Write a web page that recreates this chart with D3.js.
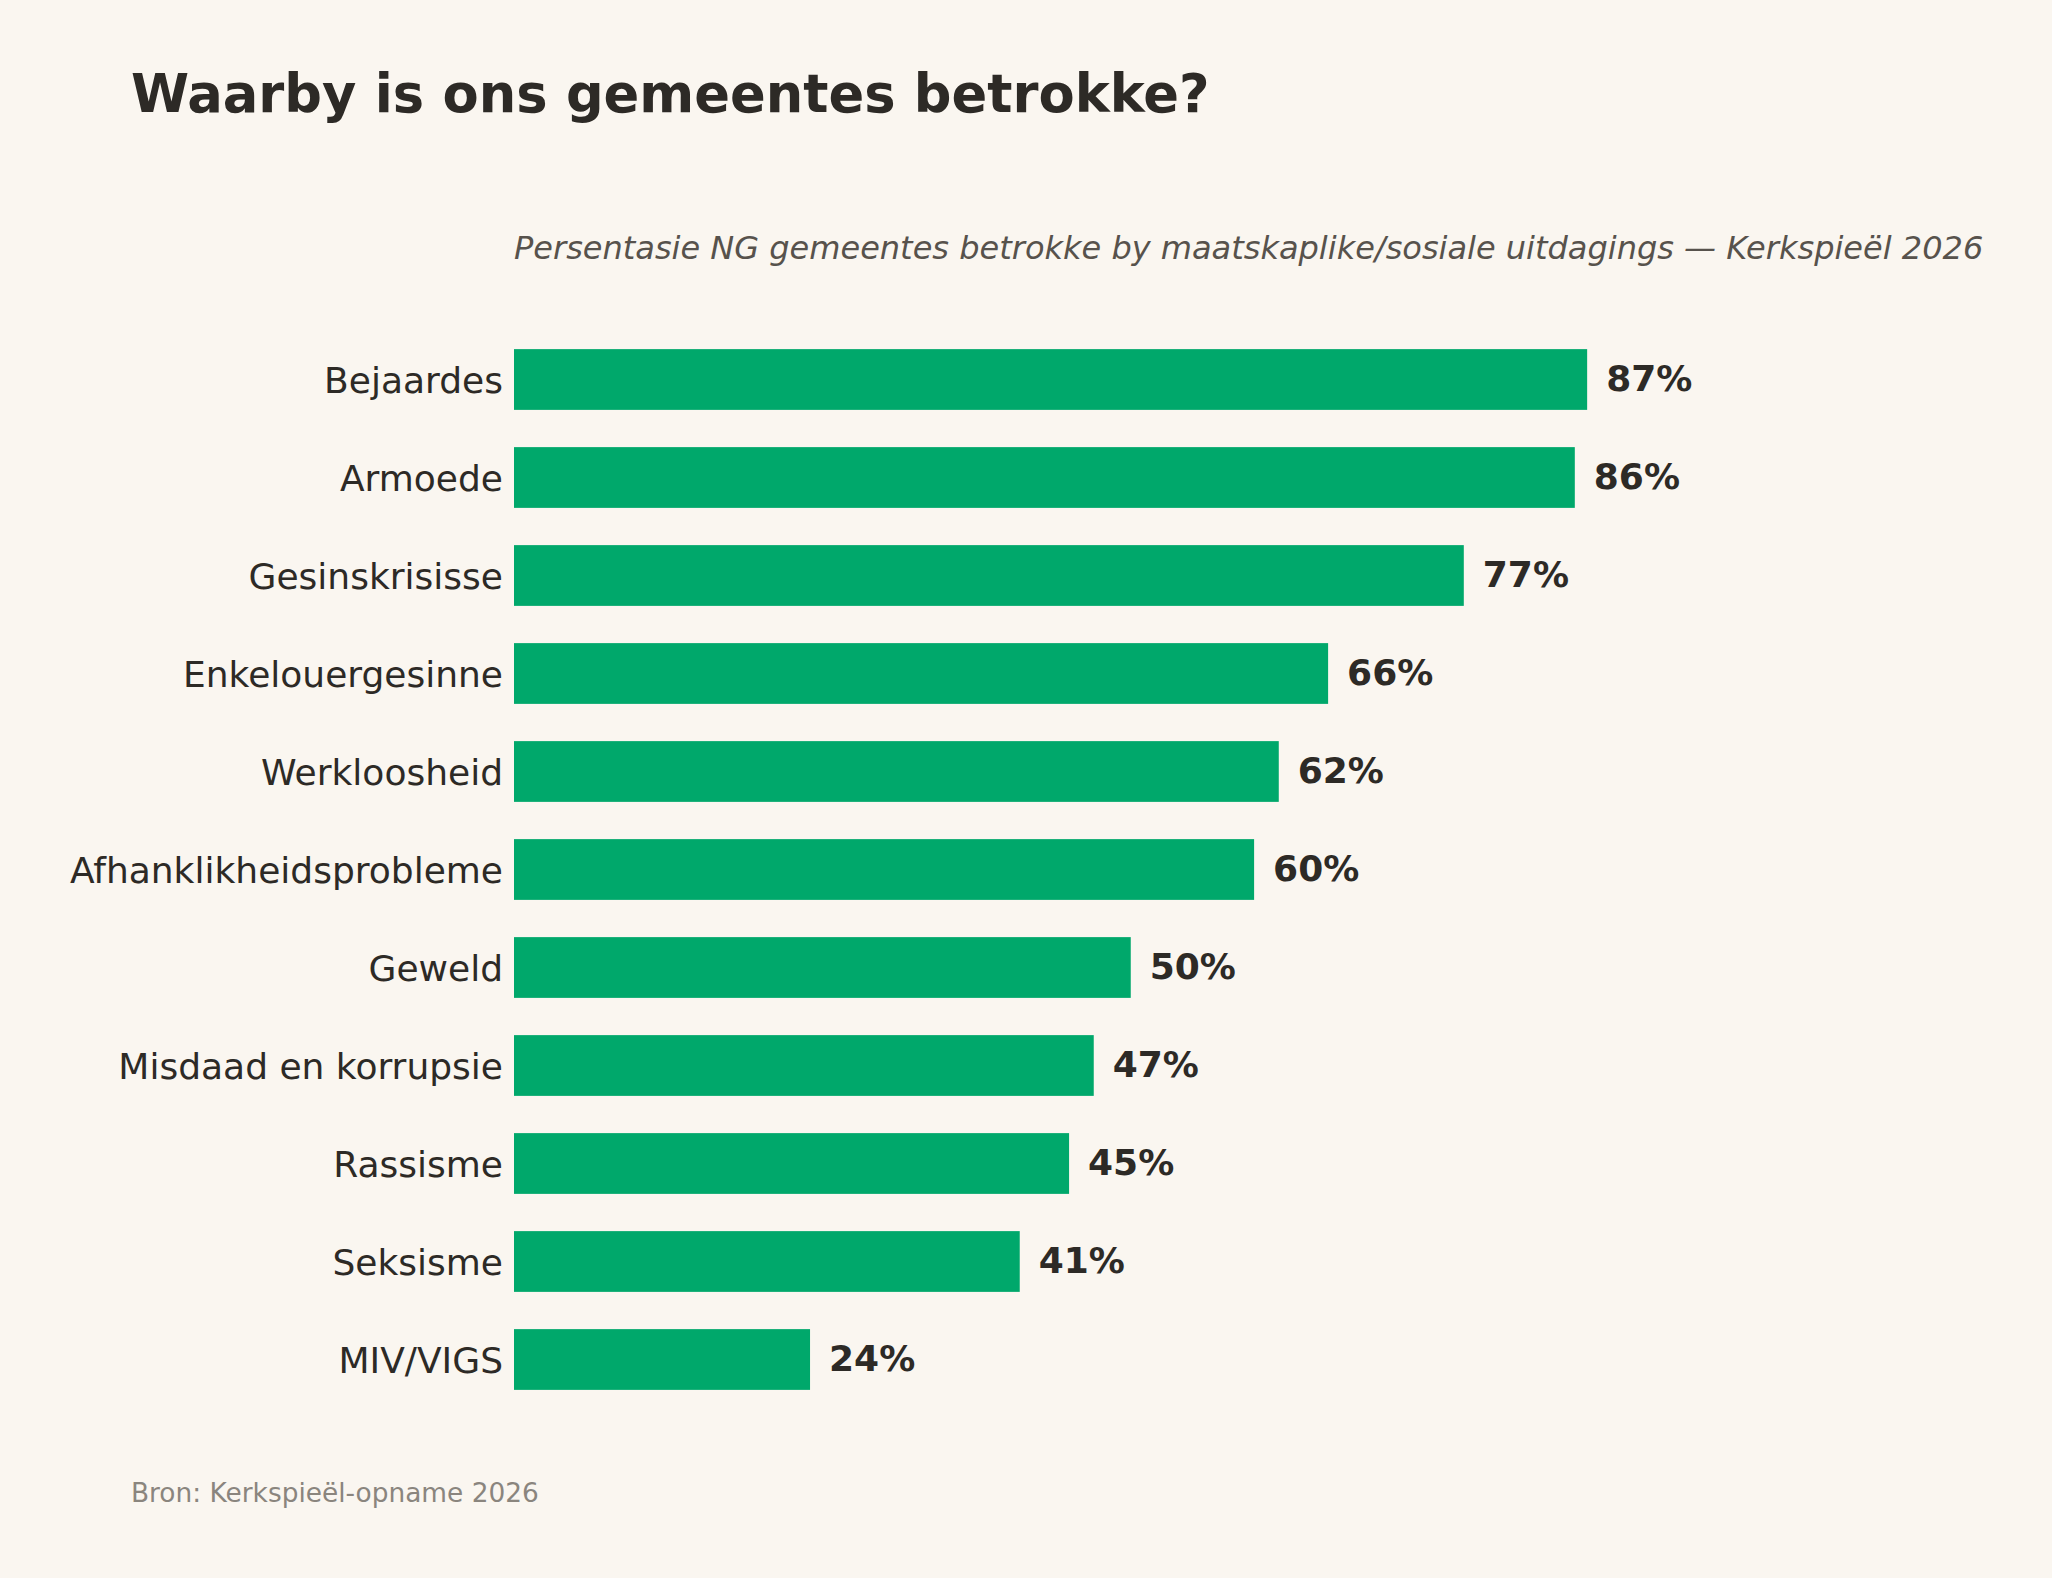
<!DOCTYPE html>
<html>
<head>
<meta charset="utf-8">
<script src="https://d3js.org/d3.v7.min.js"></script>
<style>
  html, body { margin: 0; padding: 0; background: #faf6f0; }
  svg { display: block; font-family: "DejaVu Sans", sans-serif; }
</style>
</head>
<body>
<div id="chart"></div>
<script>
// data
const categories = ["Bejaardes", "Armoede", "Gesinskrisisse", "Enkelouergesinne", "Werkloosheid",
  "Afhanklikheidsprobleme", "Geweld", "Misdaad en korrupsie", "Rassisme", "Seksisme", "MIV/VIGS"];
const values = [87, 86, 77, 66, 62, 60, 50, 47, 45, 41, 24];

const titleText = "Waarby is ons gemeentes betrokke?";
const subtitleText = "Persentasie NG gemeentes betrokke by maatskaplike/sosiale uitdagings \u2014 Kerkspie\u00ebl 2026";
const sourceText = "Bron: Kerkspie\u00ebl-opname 2026";

const width = 2052, height = 1578;
const ink = "#2d2a26", barColor = "#00a86b";

const svg = d3.select("#chart").append("svg")
  .attr("width", width)
  .attr("height", height);

svg.append("rect").attr("width", width).attr("height", height).attr("fill", "#faf6f0");

const x = d3.scaleLinear().domain([0, 100]).range([514, 1747.5]);
const y = d3.scaleBand().domain(categories).range([330.5, 1408.5])
  .paddingInner(0.38).paddingOuter(0.19);

const rows = categories.map((c, i) => ({cat: c, val: values[i]}));

svg.append("text")
  .attr("x", 131).attr("y", 112)
  .attr("font-size", 52.7).attr("font-weight", "bold")
  .attr("fill", ink)
  .text(titleText);

svg.append("text")
  .attr("x", x(0)).attr("y", 259)
  .attr("font-size", 32).attr("font-style", "italic")
  .attr("fill", "#57524c")
  .text(subtitleText);

svg.selectAll("rect.bar")
  .data(rows)
  .join("rect")
  .attr("class", "bar")
  .attr("x", x(0))
  .attr("y", d => y(d.cat))
  .attr("width", d => x(d.val) - x(0))
  .attr("height", y.bandwidth())
  .attr("fill", barColor);

// category labels
const yAxis = svg.append("g")
  .attr("transform", `translate(${x(0)},0)`)
  .call(d3.axisLeft(y).tickSize(0).tickPadding(11));
yAxis.select(".domain").remove();
yAxis.selectAll("text")
  .attr("font-size", 36)
  .attr("dy", "0.38em")
  .attr("font-family", "DejaVu Sans, sans-serif")
  .attr("fill", ink);

svg.selectAll("text.val")
  .data(rows)
  .join("text")
  .attr("class", "val")
  .attr("x", d => x(d.val) + 19)
  .attr("y", d => y(d.cat) + y.bandwidth() / 2)
  .attr("dy", "0.31em")
  .attr("font-size", 36).attr("font-weight", "bold")
  .attr("fill", ink)
  .text(d => d.val + "%");

svg.append("text")
  .attr("x", 131).attr("y", 1502)
  .attr("font-size", 26.4)
  .attr("fill", "#8a857e")
  .text(sourceText);
</script>
</body>
</html>
